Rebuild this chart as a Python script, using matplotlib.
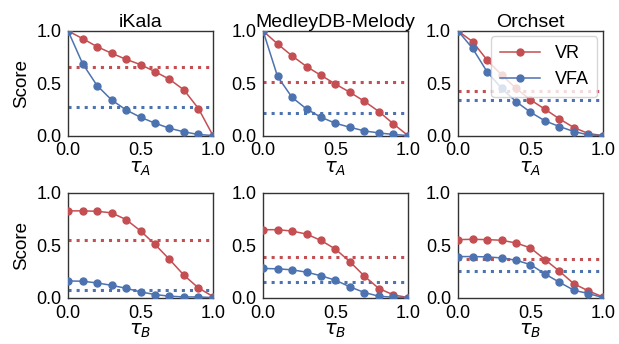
import matplotlib
matplotlib.use("Agg")
import matplotlib.pyplot as plt

plt.rcParams["font.family"] = ["Liberation Sans", "DejaVu Sans"]
plt.rcParams["font.size"] = 13

RED = "#C44E52"
BLUE = "#4C72B0"

tau = [0.0, 0.1, 0.2, 0.3, 0.4, 0.5, 0.6, 0.7, 0.8, 0.9, 1.0]
datasets = ["iKala", "MedleyDB-Melody", "Orchset"]

# top row: tau_A
vr_a_ikala = [1.0, 0.927, 0.85, 0.787, 0.729, 0.678, 0.611, 0.538, 0.436, 0.258, 0.0]
vfa_a_ikala = [1.0, 0.688, 0.478, 0.341, 0.245, 0.175, 0.118, 0.07, 0.035, 0.01, 0.0]
vr_a_medley = [1.0, 0.876, 0.762, 0.66, 0.575, 0.492, 0.413, 0.327, 0.229, 0.111, 0.0]
vfa_a_medley = [1.0, 0.565, 0.365, 0.254, 0.175, 0.117, 0.079, 0.044, 0.025, 0.01, 0.0]
vr_a_orch = [1.0, 0.898, 0.723, 0.58, 0.452, 0.341, 0.252, 0.159, 0.076, 0.019, 0.0]
vfa_a_orch = [1.0, 0.834, 0.611, 0.452, 0.325, 0.223, 0.14, 0.086, 0.038, 0.006, 0.0]

# bottom row: tau_B
vr_b_ikala = [0.829, 0.829, 0.825, 0.81, 0.746, 0.638, 0.508, 0.365, 0.213, 0.092, 0.01]
vfa_b_ikala = [0.159, 0.156, 0.14, 0.117, 0.089, 0.054, 0.029, 0.013, 0.006, 0.006, 0.0]
vr_b_medley = [0.649, 0.649, 0.636, 0.607, 0.546, 0.463, 0.342, 0.204, 0.086, 0.026, 0.0]
vfa_b_medley = [0.278, 0.275, 0.265, 0.243, 0.208, 0.166, 0.102, 0.048, 0.013, 0.003, 0.0]
vr_b_orch = [0.554, 0.557, 0.554, 0.548, 0.522, 0.475, 0.363, 0.252, 0.131, 0.064, 0.006]
vfa_b_orch = [0.392, 0.392, 0.389, 0.379, 0.357, 0.315, 0.226, 0.146, 0.07, 0.038, 0.0]

# dotted reference levels
vr_ref_a = [0.659, 0.511, 0.424]
vfa_ref_a = [0.277, 0.216, 0.341]
vr_ref_b = [0.546, 0.39, 0.373]
vfa_ref_b = [0.073, 0.147, 0.255]

rows = [
    ([vr_a_ikala, vr_a_medley, vr_a_orch], [vfa_a_ikala, vfa_a_medley, vfa_a_orch],
     vr_ref_a, vfa_ref_a, r"$\tau_A$"),
    ([vr_b_ikala, vr_b_medley, vr_b_orch], [vfa_b_ikala, vfa_b_medley, vfa_b_orch],
     vr_ref_b, vfa_ref_b, r"$\tau_B$"),
]

fig = plt.figure(figsize=(6.19, 3.44), dpi=100)
lefts = [0.110, 0.425, 0.740]
bottoms = [0.606, 0.135]
w, h = 0.234, 0.304

for r, (vr_list, vfa_list, vr_ref, vfa_ref, xlab) in enumerate(rows):
    for c in range(3):
        ax = fig.add_axes([lefts[c], bottoms[r], w, h])
        ax.plot(tau, vr_list[c], color=RED, marker="o", markersize=5,
                linewidth=1.1, label="VR", zorder=3)
        ax.plot(tau, vfa_list[c], color=BLUE, marker="o", markersize=5,
                linewidth=1.1, label="VFA", zorder=3)
        ax.axhline(vr_ref[c], color=RED, linestyle=":", linewidth=2.2, zorder=2)
        ax.axhline(vfa_ref[c], color=BLUE, linestyle=":", linewidth=2.2, zorder=2)
        ax.set_xlim(0, 1)
        ax.set_ylim(0, 1)
        ax.set_xticks([0, 0.5, 1.0])
        ax.set_yticks([0, 0.5, 1.0])
        ax.set_xticklabels(["0.0", "0.5", "1.0"])
        ax.set_yticklabels(["0.0", "0.5", "1.0"])
        ax.tick_params(length=0, pad=5, labelsize=13)
        for s in ax.spines.values():
            s.set_color("#333333")
            s.set_linewidth(1.0)
        ax.set_xlabel(xlab, fontsize=14, labelpad=0)
        if c == 0:
            ax.set_ylabel("Score", fontsize=13.5, labelpad=4)
        if r == 0:
            ax.set_title(datasets[c], fontsize=14, pad=2)
        if r == 0 and c == 2:
            leg = ax.legend(loc="upper right", fontsize=13, frameon=True,
                            borderpad=0.5, handlelength=2.2,
                            borderaxespad=0.3)
            leg.get_frame().set_edgecolor("#cccccc")

fig.savefig("out.png", dpi=100)
